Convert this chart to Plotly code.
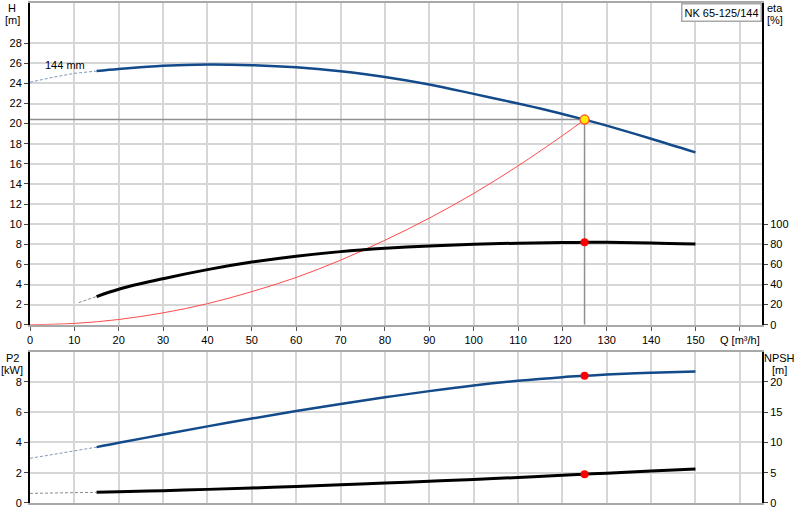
import plotly.graph_objects as go

# curva H (altura) - parte valida
q_h = [15, 20, 30, 40, 50, 60, 70, 80, 90, 100, 110, 115, 120, 125, 130, 140, 150]
h = [25.23, 25.43, 25.76, 25.89, 25.82, 25.6, 25.2, 24.64, 23.89, 22.96, 22.0, 21.5, 20.96, 20.4, 19.8, 18.5, 17.14]
# extensao tracejada
q_h_ext = [0, 5, 10, 15]
h_ext = [24.12, 24.6, 25.0, 25.23]

# curva de sistema (vermelha)
q_sis = [0, 10, 20, 30, 40, 50, 60, 70, 80, 90, 100, 110, 120, 125]
h_sis = [0, 0.13, 0.52, 1.18, 2.09, 3.29, 4.7, 6.42, 8.4, 10.6, 13.05, 15.8, 18.8, 20.4]

# rendimento eta [%]
q_eta = [15, 20, 30, 40, 50, 60, 70, 80, 90, 100, 110, 120, 125, 130, 140, 150]
eta = [28.0, 35.3, 45.8, 54.8, 62.3, 68.2, 72.7, 76.0, 78.4, 80.0, 81.1, 81.7, 81.9, 81.9, 81.4, 80.2]
q_eta_ext = [11, 15]
eta_ext = [22.0, 28.0]

# potencia P2 [kW]
q_p2 = [15, 20, 30, 40, 50, 60, 70, 80, 90, 100, 110, 120, 125, 130, 140, 150]
p2 = [3.69, 3.98, 4.52, 5.06, 5.58, 6.07, 6.54, 6.98, 7.39, 7.76, 8.07, 8.31, 8.40, 8.48, 8.6, 8.68]
q_p2_ext = [0, 10, 15]
p2_ext = [2.95, 3.47, 3.69]

# NPSH [m]
q_npsh = [15, 20, 30, 40, 50, 60, 70, 80, 90, 100, 110, 120, 125, 130, 140, 150]
npsh = [1.76, 1.85, 2.04, 2.25, 2.48, 2.73, 3.0, 3.29, 3.59, 3.9, 4.22, 4.58, 4.76, 4.93, 5.28, 5.62]
q_npsh_ext = [0, 15]
npsh_ext = [1.59, 1.76]

# ponto de operacao
q_op = 125
h_op = 20.4
eta_op = 81.9
p2_op = 8.40
npsh_op = 4.76

x_ticks = list(range(0, 170, 10))
x_labels = [str(v) for v in range(0, 160, 10)] + ["Q [m³/h]"]

azul = "#124a8a"
cinza_grid = "#d6d6d6"
cinza_borda = "#a8a8a8"
fonte = "Liberation Sans, Arial, sans-serif"

# geometria em pixels (janela 800x520)
W, H_PX = 800, 520
M_L, M_R, M_T, M_B = 30, 38, 1, 17
larg = W - M_L - M_R
alt = H_PX - M_T - M_B


def px_x(xp):
    return (xp - M_L) / larg


def px_y(yp):
    return (H_PX - M_B - yp) / alt


dom_sup = [px_y(324), 1]
dom_inf = [0, px_y(351)]

fig = go.Figure()

# linhas do ponto de operacao
fig.add_trace(go.Scatter(x=[0, q_op], y=[h_op, h_op], mode="lines",
                         line=dict(color="#909090", width=1.5), xaxis="x", yaxis="y"))
fig.add_trace(go.Scatter(x=[q_op, q_op], y=[0, h_op], mode="lines",
                         line=dict(color="#909090", width=1.5), xaxis="x", yaxis="y"))

# H
fig.add_trace(go.Scatter(x=q_h_ext, y=h_ext, mode="lines",
                         line=dict(color="#7f97b8", width=1, dash="3px,2px"), xaxis="x", yaxis="y"))
fig.add_trace(go.Scatter(x=q_h, y=h, mode="lines", line=dict(color=azul, width=2.5, shape="spline"),
                         xaxis="x", yaxis="y"))

# eta (eixo da direita)
fig.add_trace(go.Scatter(x=q_eta_ext, y=eta_ext, mode="lines",
                         line=dict(color="#888888", width=1, dash="3px,2px"), xaxis="x", yaxis="y2"))
fig.add_trace(go.Scatter(x=q_eta, y=eta, mode="lines", line=dict(color="black", width=3, shape="spline"),
                         xaxis="x", yaxis="y2"))

# curva de sistema
fig.add_trace(go.Scatter(x=q_sis, y=h_sis, mode="lines", line=dict(color="#ff4a4a", width=1, shape="spline"),
                         xaxis="x", yaxis="y"))

# pontos
fig.add_trace(go.Scatter(x=[q_op], y=[eta_op], mode="markers",
                         marker=dict(color="#ff0000", size=8), xaxis="x", yaxis="y2"))
fig.add_trace(go.Scatter(x=[q_op], y=[h_op], mode="markers",
                         marker=dict(color="#ffee00", size=9, line=dict(color="#ff5a2a", width=1.5)),
                         xaxis="x", yaxis="y"))

# P2
fig.add_trace(go.Scatter(x=q_p2_ext, y=p2_ext, mode="lines",
                         line=dict(color="#7f97b8", width=1, dash="3px,2px"), xaxis="x2", yaxis="y3"))
fig.add_trace(go.Scatter(x=q_p2, y=p2, mode="lines", line=dict(color=azul, width=2.5, shape="spline"),
                         xaxis="x2", yaxis="y3"))
fig.add_trace(go.Scatter(x=[q_op], y=[p2_op], mode="markers",
                         marker=dict(color="#ff0000", size=8), xaxis="x2", yaxis="y3"))

# NPSH
fig.add_trace(go.Scatter(x=q_npsh_ext, y=npsh_ext, mode="lines",
                         line=dict(color="#888888", width=1, dash="3px,2px"), xaxis="x2", yaxis="y4"))
fig.add_trace(go.Scatter(x=q_npsh, y=npsh, mode="lines", line=dict(color="black", width=3, shape="spline"),
                         xaxis="x2", yaxis="y4"))
fig.add_trace(go.Scatter(x=[q_op], y=[npsh_op], mode="markers",
                         marker=dict(color="#ff0000", size=8), xaxis="x2", yaxis="y4"))

eixo_x = dict(range=[0, 165], tickmode="array", tickvals=x_ticks, showgrid=True,
              gridcolor=cinza_grid, gridwidth=1.5, zeroline=False, showline=True,
              linecolor=cinza_borda, linewidth=2, mirror=True, fixedrange=True)

fig.update_layout(
    width=W, height=H_PX,
    margin=dict(l=M_L, r=M_R, t=M_T, b=M_B),
    paper_bgcolor="white", plot_bgcolor="white",
    font=dict(family=fonte, size=11, color="black"),
    showlegend=False,
    xaxis=dict(eixo_x, domain=[0, 1], anchor="y", ticktext=x_labels, ticks="outside",
               ticklen=4, tickcolor="#555555"),
    xaxis2=dict(eixo_x, domain=[0, 1], anchor="y3", showticklabels=False, ticks=""),
    yaxis=dict(domain=dom_sup, range=[0, 32], tickvals=list(range(0, 30, 2)), showgrid=True,
               gridcolor=cinza_grid, gridwidth=1.5, zeroline=False, showline=True,
               linecolor="black", linewidth=2, ticks="outside", ticklen=4, anchor="x"),
    yaxis2=dict(overlaying="y", side="right", range=[0, 320], tickvals=list(range(0, 120, 20)),
                showgrid=False, zeroline=False, showline=True, linecolor="black", linewidth=2,
                ticks="outside", ticklen=4, anchor="x"),
    yaxis3=dict(domain=dom_inf, range=[0, 10], tickvals=[0, 2, 4, 6, 8], showgrid=True,
                gridcolor=cinza_grid, gridwidth=1.5, zeroline=False, showline=True,
                linecolor="black", linewidth=2, ticks="outside", ticklen=4, anchor="x2"),
    yaxis4=dict(overlaying="y3", side="right", range=[0, 25], tickvals=[0, 5, 10, 15, 20],
                showgrid=False, zeroline=False, showline=True, linecolor="black", linewidth=2,
                ticks="outside", ticklen=4, anchor="x2"),
)

# titulos dos eixos e rotulos
textos = [
    ("H", 12, 6), ("[m]", 12, 18),
    ("eta", 775, 6), ("[%]", 775, 18),
    ("P2", 12, 357), ("[kW]", 12, 369),
    ("NPSH", 779, 357), ("[m]", 779, 369),
]
for txt, xp, yp in textos:
    fig.add_annotation(text=txt, xref="paper", yref="paper", x=px_x(xp), y=px_y(yp),
                       showarrow=False, xanchor="center", yanchor="middle",
                       font=dict(size=11, color="black"))

fig.add_annotation(text="144 mm", xref="x", yref="y", x=8, y=25.8, showarrow=False,
                   font=dict(size=11, color="black"))

fig.add_annotation(text="NK 65-125/144", xref="paper", yref="paper", x=1, y=1,
                   xanchor="right", yanchor="top", showarrow=False, bgcolor="white",
                   bordercolor=cinza_borda, borderwidth=1.5, borderpad=2,
                   font=dict(size=11, color="black"))

# tira a margem padrao do body para o grafico ficar no canto da janela
fig.write_html("out.html", config={"displayModeBar": False},
               post_script="document.body.style.margin='0';")
